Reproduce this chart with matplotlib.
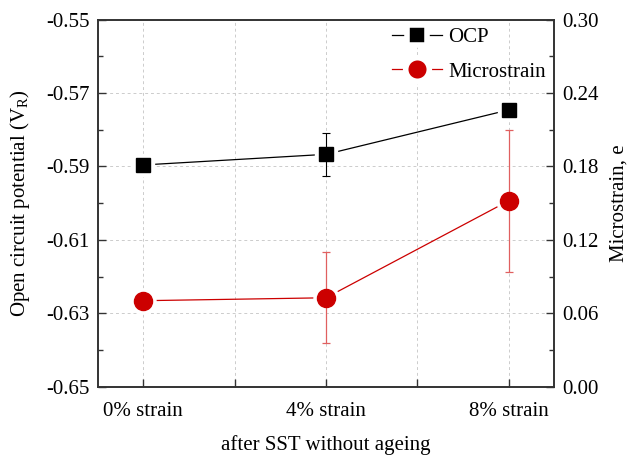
import matplotlib
matplotlib.use("Agg")
import matplotlib.pyplot as plt
from matplotlib.lines import Line2D

plt.rcParams['font.family'] = ['Liberation Serif', 'DejaVu Serif']
plt.rcParams['mathtext.default'] = 'regular'
plt.rcParams['font.size'] = 15

labels = ['0% strain', '4% strain', '8% strain']
ocp = [-0.5896, -0.5867, -0.5746]
ocp_err = [0.0, 0.0058, 0.0]
micro = [0.0703, 0.0727, 0.152]
micro_err = [0.0, 0.0373, 0.0579]

red = '#CC0000'
x = list(range(len(labels)))

fig = plt.figure(figsize=(6.33, 4.55), dpi=100)
ax1 = fig.add_axes([0.155, 0.150, 0.720, 0.807])
ax2 = ax1.twinx()

# OCP on the left axis
ax1.plot(x, ocp, color='black', lw=0.9, zorder=2)
ax1.plot(x, ocp, ls='none', marker='s', ms=16, color='white', zorder=3)
ax1.errorbar(x, ocp, yerr=ocp_err, fmt='none', ecolor='black', elinewidth=0.8,
             capsize=3, capthick=0.8, zorder=4)
ax1.plot(x, ocp, ls='none', marker='s', ms=10.5, color='black', zorder=5)

# microstrain on the right axis
ax2.plot(x, micro, color=red, lw=0.9, zorder=2)
ax2.plot(x, micro, ls='none', marker='o', ms=18, color='white', zorder=3)
ax2.errorbar(x, micro, yerr=micro_err, fmt='none', ecolor='#E06060', elinewidth=0.9,
             capsize=3, capthick=0.9, zorder=4)
ax2.plot(x, micro, ls='none', marker='o', ms=13, color=red, zorder=5)

ax1.set_xlim(-0.246, 2.246)
ax1.set_ylim(-0.65, -0.55)
ax2.set_ylim(0, 0.30)

ax1.set_xticks(x)
ax1.set_xticklabels(labels)
ax1.set_xticks([0.5, 1.5], minor=True)
ax1.set_yticks([-0.65, -0.63, -0.61, -0.59, -0.57, -0.55])
ax1.set_yticklabels(['-0.65', '-0.63', '-0.61', '-0.59', '-0.57', '-0.55'])
ax1.set_yticks([-0.64, -0.62, -0.60, -0.58, -0.56], minor=True)
ax2.set_yticks([0.0, 0.06, 0.12, 0.18, 0.24, 0.30])
ax2.set_yticklabels(['0.00', '0.06', '0.12', '0.18', '0.24', '0.30'])
ax2.set_yticks([0.03, 0.09, 0.15, 0.21, 0.27], minor=True)

for a in (ax1, ax2):
    a.tick_params(which='both', direction='in', width=1.0, color='#333333')
    a.tick_params(which='major', length=6, pad=6)
    a.tick_params(which='minor', length=3.5)
    for s in a.spines.values():
        s.set_linewidth(1.2)
        s.set_color('#333333')
ax1.tick_params(axis='x', which='minor', length=6)
ax1.tick_params(axis='x', which='major', pad=11)

# dashed grid at both major and minor x positions
ax1.grid(True, axis='y', which='major', ls=(0, (3, 3)), color='#cccccc', lw=0.7)
ax1.grid(True, axis='x', which='both', ls=(0, (3, 3)), color='#cccccc', lw=0.7)
ax1.set_axisbelow(True)

ax1.set_xlabel('after SST without ageing', labelpad=10)
ax1.set_ylabel('Open circuit potential (V$_R$)', labelpad=10)
ax2.set_ylabel('Microstrain, e', labelpad=8)

handles = [
    Line2D([], [], color='black', lw=0.9, marker='s', ms=15, mfc='black',
           mec='white', mew=4),
    Line2D([], [], color=red, lw=0.9, marker='o', ms=17, mfc=red,
           mec='white', mew=4),
]
ax2.legend(handles, ['OCP', 'Microstrain'], loc='upper right', frameon=False,
           handlelength=2.4, handletextpad=0.3, labelspacing=0.7,
           borderaxespad=0.1, borderpad=0.3, fontsize=15)

fig.savefig('out.png', dpi=100)
